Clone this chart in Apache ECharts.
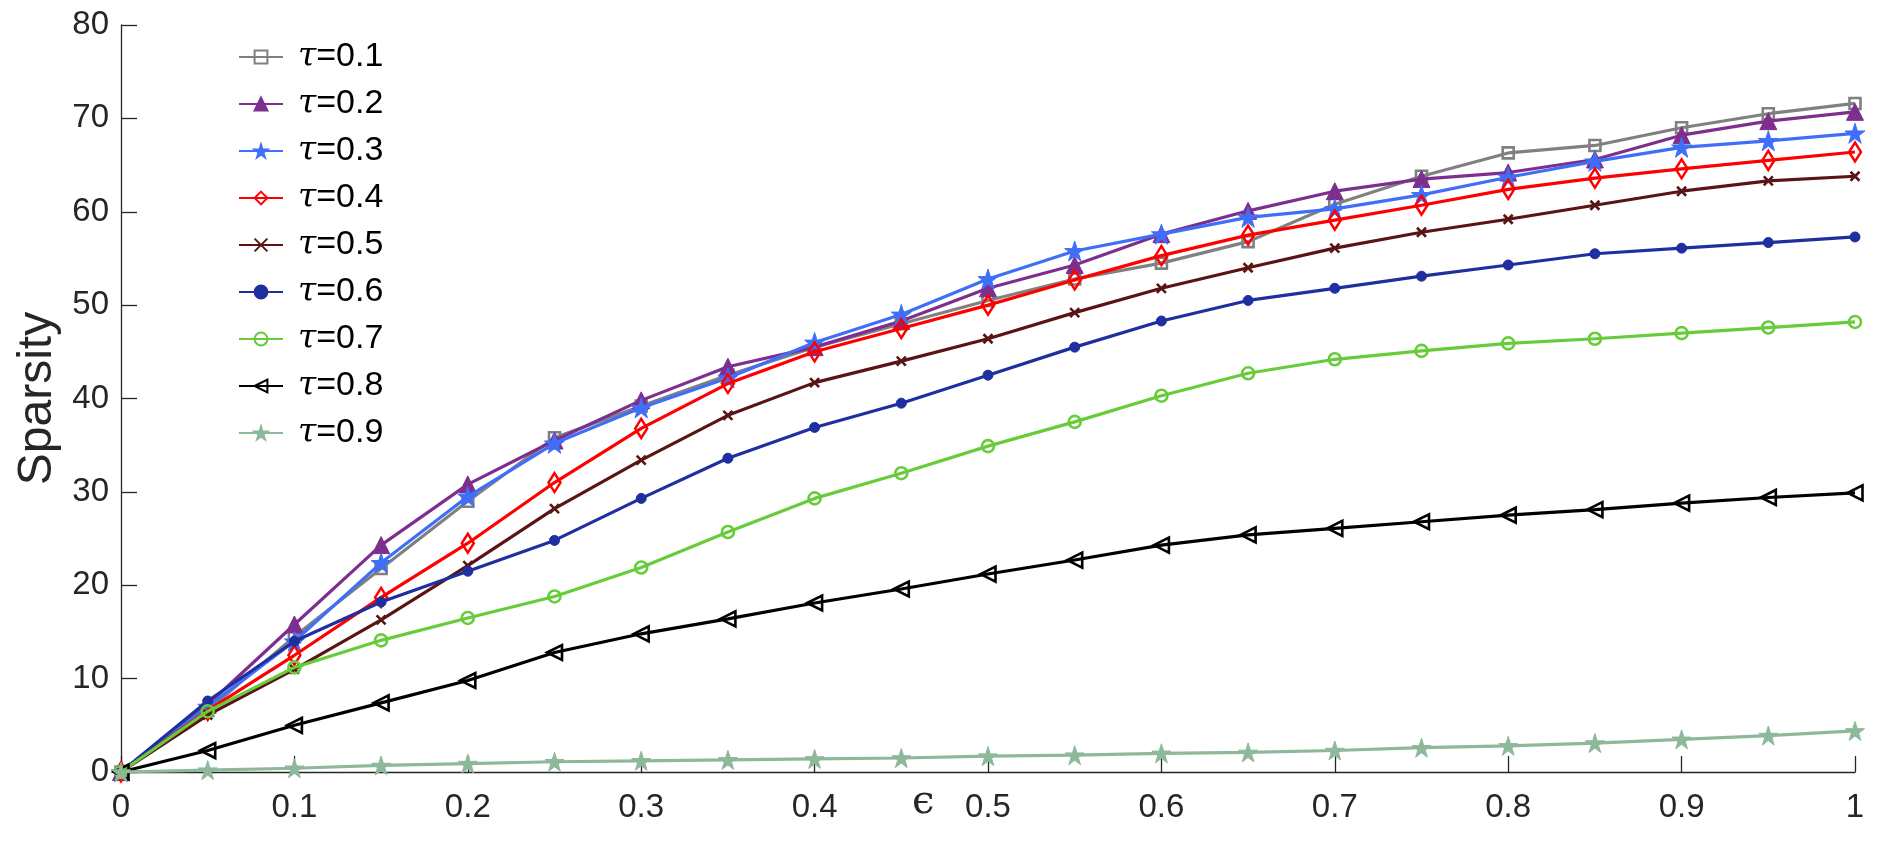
<!DOCTYPE html>
<html>
<head>
<meta charset="utf-8">
<script src="https://cdn.jsdelivr.net/npm/echarts@6/dist/echarts.min.js"></script>
<style>html,body{margin:0;padding:0;background:#fff}#c{width:1895px;height:852px}</style>
</head>
<body>
<div id="c"></div>
<script>
var epsValues = [0,0.05,0.1,0.15,0.2,0.25,0.3,0.35,0.4,0.45,0.5,0.55,0.6,0.65,0.7,0.75,0.8,0.85,0.9,0.95,1];
var seriesNames = ['τ=0.1','τ=0.2','τ=0.3','τ=0.4','τ=0.5','τ=0.6','τ=0.7','τ=0.8','τ=0.9'];
var tau01 = [0,6.6,14.5,21.8,29.0,35.8,39.2,42.5,45.5,48.0,50.5,52.8,54.5,56.8,60.8,63.8,66.3,67.1,69.0,70.5,71.6];
var tau02 = [0,7.2,15.8,24.3,30.8,35.5,39.8,43.4,45.5,48.3,51.8,54.3,57.6,60.1,62.2,63.5,64.2,65.6,68.2,69.7,70.7];
var tau03 = [0,7.0,14.0,22.4,29.5,35.2,39.0,42.2,46.0,49.0,52.8,55.8,57.6,59.4,60.3,61.8,63.7,65.4,66.9,67.6,68.4];
var tau04 = [0,6.6,12.5,18.7,24.5,31.0,36.8,41.6,45.0,47.5,50.0,52.7,55.3,57.5,59.1,60.7,62.4,63.6,64.6,65.5,66.4];
var tau05 = [0,6.1,11.0,16.3,22.1,28.2,33.4,38.2,41.7,44.0,46.4,49.2,51.8,54.0,56.1,57.8,59.2,60.7,62.2,63.3,63.8];
var tau06 = [0,7.6,14.0,18.2,21.5,24.8,29.3,33.6,36.9,39.5,42.5,45.5,48.3,50.5,51.8,53.1,54.3,55.5,56.1,56.7,57.3];
var tau07 = [0,6.5,11.2,14.1,16.5,18.8,21.9,25.7,29.3,32.0,34.9,37.5,40.3,42.7,44.2,45.1,45.9,46.4,47.0,47.6,48.2];
var tau08 = [0,2.3,5.0,7.4,9.8,12.8,14.8,16.4,18.1,19.6,21.2,22.7,24.3,25.4,26.1,26.8,27.5,28.1,28.8,29.4,29.9];
var tau09 = [0,0.2,0.4,0.7,0.9,1.1,1.2,1.3,1.4,1.5,1.7,1.8,2.0,2.1,2.3,2.6,2.8,3.1,3.5,3.9,4.4];
var allData = [tau01,tau02,tau03,tau04,tau05,tau06,tau07,tau08,tau09];

var STAR = 'path://M0,-10L2.245,-3.09L9.511,-3.09L3.633,1.18L5.878,8.09L0,3.82L-5.878,8.09L-3.633,1.18L-9.511,-3.09L-2.245,-3.09Z';
var XMARK = 'path://M0,0L10,10M10,0L0,10';
var LTRI = 'path://M0,5L10,0L10,10Z';
var styles = [
  {c:'#808080', sym:'rect', size:11, open:true},
  {c:'#7E2F8E', sym:'triangle', size:17, open:false},
  {c:'#3F6FF8', sym:STAR, size:20, open:false},
  {c:'#FF0000', sym:'diamond', size:[12,19], open:true},
  {c:'#5A1414', sym:XMARK, size:9, open:true},
  {c:'#1F2FA0', sym:'circle', size:10, open:false},
  {c:'#66CC3A', sym:'circle', size:12, open:true},
  {c:'#000000', sym:LTRI, size:15, open:true},
  {c:'#8DB89A', sym:STAR, size:19, open:false}
];

var series = seriesNames.map(function(n,i){
  var s = styles[i];
  return {
    name:n, type:'line', data: epsValues.map(function(x,j){return [x, allData[i][j]];}),
    symbol:s.sym, symbolSize:s.size, showAllSymbol:true,
    lineStyle:{color:s.c, width:3.2},
    itemStyle:{color: s.open ? 'rgba(255,255,255,0)' : s.c, borderColor:s.c, borderWidth: s.open ? 2.6 : 1},
    color:s.c, z: 2+i
  };
});

var chart = echarts.init(document.getElementById('c'), null, {renderer:'canvas'});
chart.setOption({
  animation:false,
  backgroundColor:'#fff',
  grid:{left:121, right:40, top:25, bottom:80, containLabel:false},
  legend:{
    orient:'vertical', left:233, top:35, itemWidth:44, itemHeight:16, itemGap:13,
    data: seriesNames,
    formatter:function(name){ return '{t|τ}{n|' + name.slice(1) + '}'; },
    textStyle:{
      color:'#000', padding:[0,0,0,10],
      rich:{
        t:{fontFamily:'DejaVu Serif', fontStyle:'italic', fontSize:33, color:'#000', lineHeight:35},
        n:{fontFamily:'Liberation Sans', fontSize:34, color:'#000', lineHeight:35}
      }
    }
  },
  xAxis:{
    type:'value', min:0, max:1, interval:0.1,
    axisLine:{show:true, onZero:false, lineStyle:{color:'#262626', width:1.3}},
    axisTick:{show:true, inside:true, length:16, lineStyle:{color:'#262626', width:1.3}},
    axisLabel:{color:'#262626', fontFamily:'Liberation Sans', fontSize:33, margin:19},
    splitLine:{show:false}
  },
  yAxis:{
    type:'value', min:0, max:80, interval:10,
    name:'Sparsity', nameLocation:'middle', nameGap:50, nameRotate:90,
    nameTextStyle:{color:'#262626', fontFamily:'Liberation Sans', fontSize:48},
    axisLine:{show:true, onZero:false, lineStyle:{color:'#262626', width:1.3}},
    axisTick:{show:true, inside:true, length:16, lineStyle:{color:'#262626', width:1.3}},
    axisLabel:{color:'#262626', fontFamily:'Liberation Sans', fontSize:33, margin:12},
    splitLine:{show:false}
  },
  graphic:[{
    type:'text', left:912, top:783,
    style:{text:'ϵ', fill:'#262626', fontFamily:'DejaVu Serif', fontSize:40}
  }],
  series: series
});
</script>
</body>
</html>
